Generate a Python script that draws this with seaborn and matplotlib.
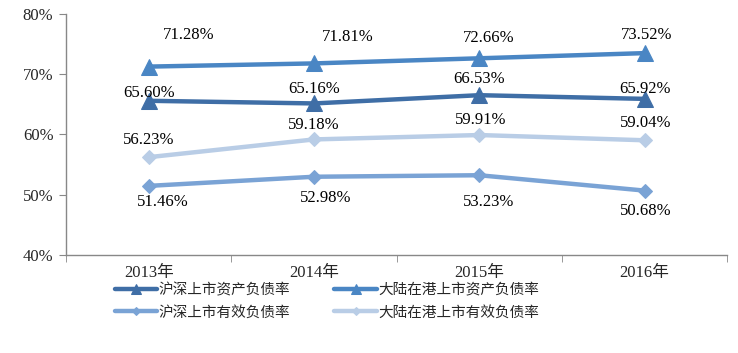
import matplotlib
matplotlib.use("Agg")
import matplotlib.pyplot as plt
import matplotlib.ticker as ticker
import seaborn as sns
import pandas as pd

# Data
years = ["2013年", "2014年", "2015年", "2016年"]
series_names = ["沪深上市资产负债率", "大陆在港上市资产负债率", "沪深上市有效负债率", "大陆在港上市有效负债率"]
sz_asset = [65.60, 65.16, 66.53, 65.92]
hk_asset = [71.28, 71.81, 72.66, 73.52]
sz_eff = [51.46, 52.98, 53.23, 50.68]
hk_eff = [56.23, 59.18, 59.91, 59.04]

values = [sz_asset, hk_asset, sz_eff, hk_eff]

# Styling
colors = ["#3f6ea6", "#4a86c4", "#7aa3d5", "#b9cde6"]
markers = ["^", "^", "D", "D"]
msizes = [11, 11, 7, 7]
# label offsets in pixels (dx, dy) for each point
label_offsets = [
    [(0, 8), (0, 14), (0, 16), (0, 10)],
    [(40, 32), (34, 26), (9, 20), (2, 18)],
    [(14, -16), (12, -21), (9, -27), (1, -20)],
    [(0, 17), (0, 14), (1, 15), (1, 17)],
]

rows = []
for name, vals in zip(series_names, values):
    for y, v in zip(years, vals):
        rows.append({"year": y, "series": name, "value": v})
df = pd.DataFrame(rows)

sns.set_style("white")
plt.rcParams["font.family"] = ["Liberation Serif", "Noto Sans CJK SC", "DejaVu Sans"]

fig = plt.figure(figsize=(7.38, 3.53), dpi=100)
ax = fig.add_axes([0.0894, 0.278, 0.896, 0.682])

for i, name in enumerate(series_names):
    sub = df[df["series"] == name]
    sns.lineplot(data=sub, x="year", y="value", ax=ax, color=colors[i],
                 marker=markers[i], markersize=msizes[i], markeredgecolor=colors[i],
                 linewidth=3.2, label=name, sort=False)

for i, vals in enumerate(values):
    for j, v in enumerate(vals):
        dx, dy = label_offsets[i][j]
        ax.annotate("%.2f%%" % v, (j, v), xytext=(dx, dy), textcoords="offset pixels",
                    ha="center", va="center", fontsize=12, color="black")

ax.set_ylim(40, 80)
ax.set_xlim(-0.5, 3.5)
ax.yaxis.set_major_locator(ticker.MultipleLocator(10))
ax.yaxis.set_major_formatter(ticker.FuncFormatter(lambda v, p: "%d%%" % v))
ax.set_xticks(range(len(years)))
ax.set_xticklabels(years)
ax.set_xticks([-0.5, 0.5, 1.5, 2.5, 3.5], minor=True)
ax.tick_params(axis="x", which="major", length=0, pad=7, labelsize=12)
ax.tick_params(axis="x", which="minor", length=5, color="#888888", direction="out", bottom=True)
ax.tick_params(axis="y", length=5, color="#888888", direction="out", left=True, labelsize=12, pad=4)
ax.set_xlabel("")
ax.set_ylabel("")

for s in ["top", "right"]:
    ax.spines[s].set_visible(False)
for s in ["left", "bottom"]:
    ax.spines[s].set_color("#888888")
    ax.spines[s].set_linewidth(1)

# legend filled row by row: reorder for matplotlib's column-first layout
handles, labels = ax.get_legend_handles_labels()
order = [0, 2, 1, 3]
ax.legend([handles[k] for k in order], [labels[k] for k in order],
          loc="upper left", bbox_to_anchor=(0.058, -0.075), ncol=2,
          frameon=False, handlelength=2.9, columnspacing=3.05, markerscale=0.6,
          labelspacing=0.55, handletextpad=0.1, borderpad=0.2,
          prop={"family": ["Noto Sans CJK SC"], "size": 10.5})

fig.savefig("out.png", dpi=100)
